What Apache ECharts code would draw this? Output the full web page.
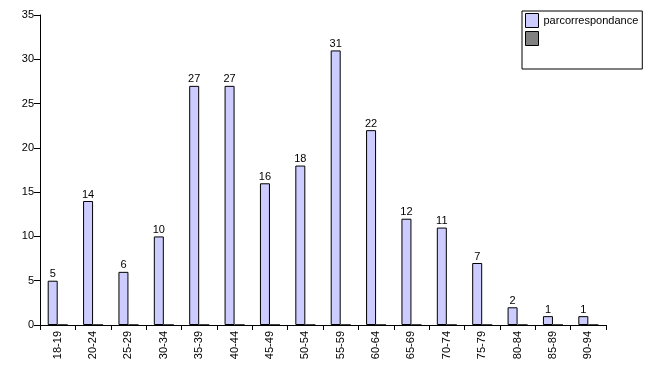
<!DOCTYPE html>
<html><head><meta charset="utf-8">
<script src="https://cdn.jsdelivr.net/npm/echarts@6/dist/echarts.min.js"></script>
<style>html,body{margin:0;padding:0;background:#fff}#c{width:653px;height:373px}</style>
</head><body><div id="c"></div>
<script>
const categories = ['18-19','20-24','25-29','30-34','35-39','40-44','45-49','50-54','55-59','60-64','65-69','70-74','75-79','80-84','85-89','90-94'];
const seriesName = 'parcorrespondance';
const values = [5,14,6,10,27,27,16,18,31,22,12,11,7,2,1,1];
const values2 = [0,0,0,0,0,0,0,0,0,0,0,0,0,0,0,0];
const yTicks = [0,5,10,15,20,25,30,35];

const chart = echarts.init(document.getElementById('c'), null, {renderer:'canvas'});
const font = 'Liberation Sans, Arial, sans-serif';
chart.setOption({
  animation:false,
  textStyle:{fontFamily:font},
  grid:{left:40,right:47,top:15,bottom:48,containLabel:false},
  legend:{
    orient:'vertical', left:522, top:11,
    borderColor:'#000', borderWidth:1, padding:[2,4,23,3],
    itemWidth:13, itemHeight:14, itemGap:3, icon:'rect',
    itemStyle:{borderColor:'#000',borderWidth:1},
    textStyle:{fontSize:11,color:'#000',fontFamily:font,padding:[0,0,0,0]},
    data:[seriesName,' ']
  },
  xAxis:{
    type:'category', data:categories,
    axisLine:{lineStyle:{color:'#000',width:1}},
    axisTick:{show:true,alignWithLabel:false,length:5,lineStyle:{color:'#000'}},
    axisLabel:{rotate:90,color:'#000',fontSize:11,margin:6,interval:0}
  },
  yAxis:{
    type:'value', min:yTicks[0], max:yTicks[yTicks.length-1], interval:5,
    splitLine:{show:false},
    axisLine:{show:true,lineStyle:{color:'#000'}},
    axisTick:{show:true,length:6,lineStyle:{color:'#000'}},
    axisLabel:{color:'#000',fontSize:11,margin:6}
  },
  series:[
    {name:seriesName,type:'bar',data:values,barWidth:10,barGap:'0%',
     itemStyle:{color:'#ccccff',borderColor:'#000',borderWidth:1},
     label:{show:true,position:'top',distance:1,color:'#000',fontSize:11,fontFamily:font}},
    {name:' ',type:'bar',data:values2,barWidth:10,
     itemStyle:{color:'#808080',borderColor:'#000',borderWidth:1}}
  ]
});
</script></body></html>
